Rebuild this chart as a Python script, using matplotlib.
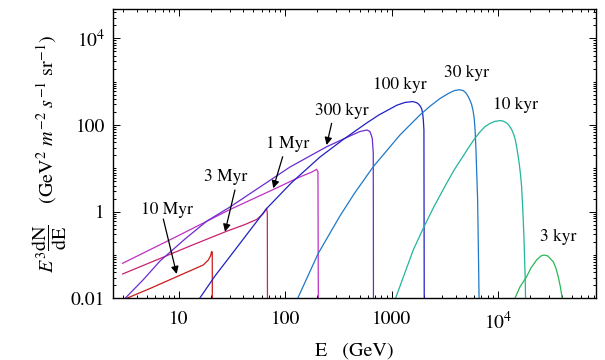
import numpy as np
import matplotlib
matplotlib.use("Agg")
import matplotlib.pyplot as plt
from matplotlib.ticker import FixedLocator, NullFormatter

plt.rcParams['font.family'] = ['STIXGeneral', 'DejaVu Serif']
plt.rcParams['mathtext.fontset'] = 'stix'

# spectra: E in GeV, E^3 dN/dE
E_10myr = [2.91, 5.34, 9.515, 16.93, 18.87, 19.79, 20.30, 20.55, 20.6]
Y_10myr = [0.0090, 0.01683, 0.0315, 0.0587, 0.0766, 0.0947, 0.120, 0.115, 0.005]

E_3myr = [2.95, 6.63, 12.7, 27.7, 41.8, 53.8, 61.7, 66.8, 67.8, 68.0]
Y_3myr = [0.0364, 0.0829, 0.161, 0.348, 0.505, 0.659, 0.882, 1.19, 0.9, 0.005]

E_1myr = [2.95, 9.51, 30.2, 77.1, 137, 178, 197, 203, 204.8]
Y_1myr = [0.0643, 0.267, 1.12, 3.24, 6.3, 8.2, 9.48, 8.4, 0.005]

E_300kyr = [2.97, 4.585, 6.63, 11.39, 18.34, 30.2, 57.8, 110.7, 245, 406, 504, 587, 626, 658, 673, 676]
Y_300kyr = [0.00889, 0.02644, 0.07258, 0.2337, 0.608, 1.28, 3.70, 10.7, 31.4, 55.7, 70.7, 76.6, 70.7, 50.1, 22.6, 0.005]

E_100kyr = [15.26, 21.8, 33.6, 66.8, 114.9, 212, 351, 583, 759, 966, 1122, 1337, 1585, 1722,
            1799, 1879, 1928, 1962, 1991, 2017, 2031]
Y_100kyr = [0.00914, 0.0327, 0.1302, 1.18, 4.70, 18.2, 46.2, 111, 170, 234, 286, 331, 347, 327,
            302, 264, 229, 186, 132, 76.6, 0.005]

E_30kyr = [127.5, 204.4, 327, 447, 673, 1200, 1850, 2291, 2853, 3388, 3715, 3981, 4365, 4725,
           5012, 5266, 5495, 5670, 5848, 5998, 6124, 6223, 6339, 6457, 6598, 6670]
Y_30kyr = [0.00866, 0.1093, 0.794, 2.63, 10.9, 58.7, 170, 269, 407, 525, 589, 631, 649, 624,
           550, 452, 363, 295, 214, 141, 70.8, 28.2, 7.08, 1.86, 0.0537, 0.0079]

E_10kyr = [1076, 1600, 1987, 2512, 3299, 3890, 4596, 5309, 6089, 6784, 7586, 8427, 9333, 10466,
           11092, 11923, 12445, 12997, 13583, 14175, 14622, 15030, 15488, 15969, 16368, 16747,
           17179, 17605, 18111, 18267]
Y_10kyr = [0.00914, 0.130, 0.4125, 1.32, 4.51, 9.25, 17.3, 30.1, 49.3, 68.9, 92.0, 108, 121, 126,
           124, 114, 105, 91.3, 75.9, 58.7, 45.2, 31.5, 19.95, 11.9, 6.92, 3.76,
           1.12, 0.264, 0.0264, 0.0079]

E_3kyr = [14175, 16141, 18664, 20484, 23174, 25437, 27154, 29599, 33208, 35210, 37009, 38808, 40354, 40973]
Y_3kyr = [0.00889, 0.01823, 0.0315, 0.0500, 0.0766, 0.0947, 0.0998, 0.0947, 0.0699, 0.0500, 0.0315,
          0.01823, 0.01, 0.0082]

curves = [
    (E_10myr, Y_10myr, '#cc1a1a'),
    (E_3myr, Y_3myr, '#c8216e'),
    (E_1myr, Y_1myr, '#bf2fc4'),
    (E_300kyr, Y_300kyr, '#6a2ccf'),
    (E_100kyr, Y_100kyr, '#2020c4'),
    (E_30kyr, Y_30kyr, '#1f78c8'),
    (E_10kyr, Y_10kyr, '#22b59c'),
    (E_3kyr, Y_3kyr, '#27b955'),
]

# labels: text, text position, arrow start, arrow tip (None = no arrow)
labels = [
    ('10 Myr', (7.66, 1.09), (7.12, 0.676), (9.51, 0.0364)),
    ('3 Myr', (27.6, 6.30), (33.6, 3.16), (27.1, 0.344)),
    ('1 Myr', (106, 36.4), (94.5, 18.5), (77.1, 3.46)),
    ('300 kyr', (340, 212), (273, 109), (245, 34.5)),
    ('100 kyr', (1192, 837), None, None),
    ('30 kyr', (5121, 1559), None, None),
    ('10 kyr', (14580, 285), None, None),
    ('3 kyr', (37330, 0.264), None, None),
]

xticks = [10, 100, 1000, 1e4]
xticklabels = ['10', '100', '1000', '$10^4$']
yticks = [0.01, 1, 100, 1e4]
yticklabels = ['0.01', '1', '100', '$10^4$']

fig = plt.figure(figsize=(6.05, 3.6), dpi=100)
ax = fig.add_axes([0.1873, 0.1714, 0.7979, 0.8036])

for E, Y, c in curves:
    ax.plot(E, Y, color=c, lw=0.9)

for txt, pos, start, tip in labels:
    ax.text(pos[0], pos[1], txt, fontsize=12.5, ha='center', va='center')
    if tip is not None:
        ax.annotate('', xy=tip, xytext=start,
                    arrowprops=dict(arrowstyle='-|>', color='black', lw=0.9,
                                    mutation_scale=11, shrinkA=0, shrinkB=0))

ax.set_xscale('log')
ax.set_yscale('log')
ax.set_xlim(2.41, 8.4e4)
ax.set_ylim(0.01, 4.75e4)

ax.xaxis.set_major_locator(FixedLocator(xticks))
ax.set_xticklabels(xticklabels)
ax.yaxis.set_major_locator(FixedLocator(yticks))
ax.set_yticklabels(yticklabels)

xminor = [k * 10.0**d for d in range(0, 5) for k in range(1, 10) if k * 10.0**d not in xticks]
yminor = [k * 10.0**d for d in range(-2, 5) for k in range(1, 10) if k * 10.0**d not in yticks]
ax.xaxis.set_minor_locator(FixedLocator(xminor))
ax.yaxis.set_minor_locator(FixedLocator(yminor))
ax.xaxis.set_minor_formatter(NullFormatter())
ax.yaxis.set_minor_formatter(NullFormatter())

ax.tick_params(which='both', direction='in', top=True, right=True, labelsize=14, width=0.7)
ax.tick_params(which='major', length=5)
ax.tick_params(axis='x', which='major', pad=9)
ax.tick_params(axis='y', which='major', pad=6)
ax.tick_params(which='minor', length=2.5)
for s in ax.spines.values():
    s.set_linewidth(1.0)

ax.set_xlabel('E   (GeV)', fontsize=14.5)
ax.set_ylabel(r'$E^3\dfrac{\mathrm{dN}}{\mathrm{dE}}$    (GeV$^2$ $m^{-2}$ $s^{-1}$ sr$^{-1}$)', fontsize=14.5)
ax.xaxis.set_label_coords(0.5, -0.152)
ax.yaxis.set_label_coords(-0.092, 0.5)

fig.savefig('out.png', dpi=100)
